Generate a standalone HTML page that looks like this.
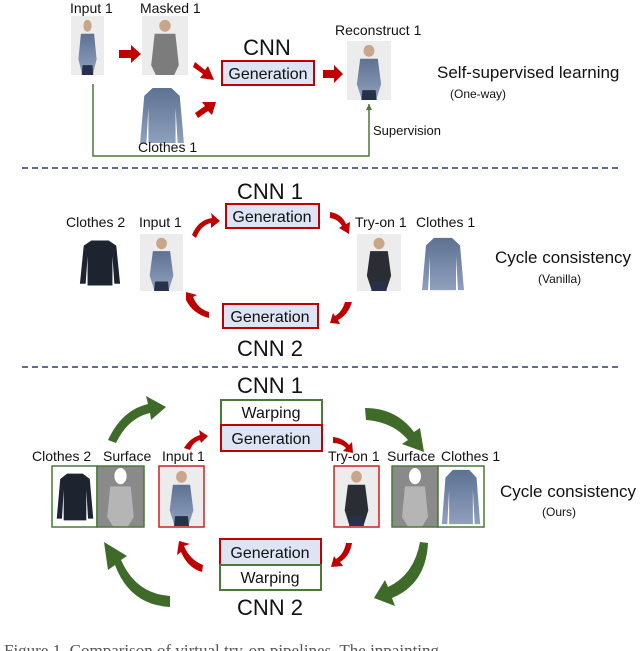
<!DOCTYPE html>
<html><head><meta charset="utf-8"><style>
html,body{margin:0;padding:0;background:#fff;width:640px;height:651px;overflow:hidden}
svg{display:block}
text{font-family:"Liberation Sans",sans-serif;fill:#111}
</style></head><body>
<svg width="640" height="651" viewBox="0 0 640 651" xmlns="http://www.w3.org/2000/svg">
<defs>
<linearGradient id="bl" x1="0" y1="0" x2="0" y2="1"><stop offset="0" stop-color="#5d7191"/><stop offset="1" stop-color="#8fa0bd"/></linearGradient>
<symbol id="pB" viewBox="0 0 40 60" preserveAspectRatio="none"><rect width="40" height="60" fill="#ececec"/><ellipse cx="20" cy="10" rx="5" ry="6" fill="#c9a58a"/><path d="M12 18 L28 18 L31 44 L27 58 L13 58 L9 44 Z" fill="url(#bl)"/><path d="M14 50 L26 50 L27 60 L13 60Z" fill="#27324a"/></symbol>
<symbol id="pK" viewBox="0 0 40 60" preserveAspectRatio="none"><rect width="40" height="60" fill="#ececec"/><ellipse cx="20" cy="10" rx="5" ry="6" fill="#c9a58a"/><path d="M12 18 L28 18 L31 44 L27 58 L13 58 L9 44 Z" fill="#2a2d33"/><path d="M14 50 L26 50 L27 60 L13 60Z" fill="#27324a"/></symbol>
<symbol id="pM" viewBox="0 0 40 60" preserveAspectRatio="none"><rect width="40" height="60" fill="#ececec"/><ellipse cx="20" cy="10" rx="5" ry="6" fill="#c9a58a"/><path d="M11 18 L29 18 L32 50 L28 60 L12 60 L8 50 Z" fill="#7c7c7c"/></symbol>
<symbol id="cB" viewBox="0 0 46 60" preserveAspectRatio="none"><path d="M14 2 L32 2 L40 10 L44 58 L38 58 L36 22 L36 58 L10 58 L10 22 L8 58 L2 58 L6 10Z" fill="url(#bl)"/></symbol>
<symbol id="cK" viewBox="0 0 46 60" preserveAspectRatio="none"><path d="M14 4 L32 4 L40 10 L44 54 L38 54 L36 22 L36 56 L10 56 L10 22 L8 54 L2 54 L6 10Z" fill="#1e2330"/></symbol>
<symbol id="sf" viewBox="0 0 46 60" preserveAspectRatio="none"><rect width="46" height="60" fill="#8a8a8a"/><ellipse cx="23" cy="10" rx="6" ry="8" fill="#fff"/><path d="M13 20 L33 20 L36 50 L30 60 L16 60 L10 50Z" fill="#b5b5b5"/></symbol>
<marker id="ga" markerWidth="8" markerHeight="8" refX="6" refY="3" orient="auto" markerUnits="userSpaceOnUse"><path d="M0 0 L6 3 L0 6Z" fill="#4a7a36"/></marker>
</defs>

<!-- Section 1 -->
<text x="70" y="13" font-size="14">Input 1</text>
<text x="140" y="13" font-size="14">Masked 1</text>
<use href="#pB" x="71" y="16" width="33" height="59"/>
<use href="#pM" x="142" y="16" width="46" height="59"/>
<path d="M119 50 L131 50 L131 45 L141 54 L131 63 L131 58 L119 58Z" fill="#c00000"/>
<path d="M195 62 L205 70 L208 66 L214 80 L200 78 L203 74 L193 67Z" fill="#c00000"/>
<path d="M195 113 L205 106 L202 102 L216 102 L212 115 L208 111 L198 118Z" fill="#c00000"/>
<text x="267" y="55" font-size="22" text-anchor="middle">CNN</text>
<rect x="222" y="61" width="92" height="24" fill="#dde4f3" stroke="#c00000" stroke-width="2"/>
<text x="268" y="79" font-size="16" text-anchor="middle">Generation</text>
<path d="M323 70 L334 70 L334 65 L343 74 L334 83 L334 78 L323 78Z" fill="#c00000"/>
<text x="335" y="35" font-size="14">Reconstruct 1</text>
<use href="#pB" x="347" y="41" width="44" height="59"/>
<use href="#cB" x="138" y="86" width="48" height="59"/>
<text x="138" y="152" font-size="14">Clothes 1</text>
<text x="437" y="78" font-size="17">Self-supervised learning</text>
<text x="450" y="98" font-size="12">(One-way)</text>
<polyline points="93,84 93,156 369,156 369,104" fill="none" stroke="#4a7a36" stroke-width="1.5" marker-end="url(#ga)"/>
<text x="373" y="135" font-size="13">Supervision</text>
<line x1="22" y1="168" x2="620" y2="168" stroke="#2d3c6e" stroke-width="1.5" stroke-dasharray="6,4"/>

<!-- Section 2 -->
<text x="270" y="199" font-size="22" text-anchor="middle">CNN 1</text>
<rect x="226" y="204" width="93" height="24" fill="#dde4f3" stroke="#c00000" stroke-width="2"/>
<text x="272" y="222" font-size="16" text-anchor="middle">Generation</text>
<path d="M192 235 Q198 220 212 218 L211 213 L220 221 L211 228 L211 223 Q201 225 196 238Z" fill="#c00000"/>
<path d="M330 212 Q342 214 346 224 L350 222 L349 234 L339 228 L342 226 Q338 219 330 218Z" fill="#c00000"/>
<text x="66" y="227" font-size="14">Clothes 2</text>
<text x="139" y="227" font-size="14">Input 1</text>
<text x="355" y="227" font-size="14">Try-on 1</text>
<text x="416" y="227" font-size="14">Clothes 1</text>
<use href="#cK" x="78" y="237" width="44" height="52"/>
<use href="#pB" x="140" y="234" width="43" height="57"/>
<use href="#pK" x="357" y="234" width="44" height="57"/>
<use href="#cB" x="420" y="236" width="46" height="56"/>
<text x="495" y="263" font-size="17">Cycle consistency</text>
<text x="538" y="283" font-size="12">(Vanilla)</text>
<path d="M186 300 Q193 314 209 318 L209 312 Q198 309 193 297 L197 295 L186 292Z" fill="#c00000"/>
<path d="M352 302 Q348 315 338 320 L340 324 L330 323 L333 313 L335 316 Q342 312 345 302Z" fill="#c00000"/>
<rect x="223" y="304" width="95" height="24" fill="#dde4f3" stroke="#c00000" stroke-width="2"/>
<text x="270" y="322" font-size="16" text-anchor="middle">Generation</text>
<text x="270" y="356" font-size="22" text-anchor="middle">CNN 2</text>
<line x1="22" y1="367" x2="620" y2="367" stroke="#2d3c6e" stroke-width="1.5" stroke-dasharray="6,4"/>

<!-- Section 3 -->
<text x="270" y="393" font-size="22" text-anchor="middle">CNN 1</text>
<rect x="221" y="400" width="101" height="25" fill="#fff" stroke="#4a7a36" stroke-width="2"/>
<text x="271" y="418" font-size="16" text-anchor="middle">Warping</text>
<rect x="221" y="425" width="101" height="26" fill="#dde4f3" stroke="#c00000" stroke-width="2"/>
<text x="271" y="444" font-size="16" text-anchor="middle">Generation</text>
<path d="M108 440 Q122 410 148 404 L146 396 L166 407 L151 420 L150 413 Q128 418 116 443Z" fill="#3f6b2a"/>
<path d="M365 408 Q396 408 414 432 L420 428 L424 452 L402 444 L408 440 Q393 422 366 420Z" fill="#3f6b2a"/>
<path d="M184 448 Q190 438 200 435 L199 430 L208 436 L201 443 L200 440 Q193 442 190 450Z" fill="#c00000"/>
<path d="M333 437 Q343 438 349 445 L352 442 L353 453 L343 451 L346 448 Q341 443 333 443Z" fill="#c00000"/>
<text x="32" y="461" font-size="14">Clothes 2</text>
<text x="103" y="461" font-size="14">Surface</text>
<text x="162" y="461" font-size="14">Input 1</text>
<text x="328" y="461" font-size="14">Try-on 1</text>
<text x="387" y="461" font-size="14">Surface</text>
<text x="441" y="461" font-size="14">Clothes 1</text>
<rect x="52" y="466" width="45" height="61" fill="#fff" stroke="#4a7a36" stroke-width="1.5"/>
<use href="#cK" x="55" y="470" width="40" height="54"/>
<use href="#sf" x="97" y="466" width="47" height="61"/>
<rect x="97" y="466" width="47" height="61" fill="none" stroke="#4a7a36" stroke-width="1.5"/>
<rect x="159" y="466" width="45" height="61" fill="#ececec" stroke="#d02020" stroke-width="1.5"/>
<use href="#pB" x="160" y="467" width="43" height="59"/>
<rect x="334" y="466" width="45" height="61" fill="#ececec" stroke="#d02020" stroke-width="1.5"/>
<use href="#pK" x="335" y="467" width="43" height="59"/>
<use href="#sf" x="392" y="466" width="46" height="61"/>
<rect x="392" y="466" width="46" height="61" fill="none" stroke="#4a7a36" stroke-width="1.5"/>
<rect x="438" y="466" width="46" height="61" fill="#fff" stroke="#4a7a36" stroke-width="1.5"/>
<use href="#cB" x="440" y="468" width="42" height="58"/>
<text x="500" y="497" font-size="17">Cycle consistency</text>
<text x="542" y="516" font-size="12">(Ours)</text>
<path d="M184 546 Q190 560 203 565 L202 572 Q188 568 181 552 L177 555 L179 541 L190 544Z" fill="#c00000"/>
<path d="M352 543 Q350 556 340 562 L343 566 L331 567 L334 556 L336 559 Q344 554 346 543Z" fill="#c00000"/>
<rect x="220" y="539" width="101" height="26" fill="#dde4f3" stroke="#c00000" stroke-width="2"/>
<text x="270" y="558" font-size="16" text-anchor="middle">Generation</text>
<rect x="220" y="565" width="101" height="25" fill="#fff" stroke="#4a7a36" stroke-width="2"/>
<text x="270" y="583" font-size="16" text-anchor="middle">Warping</text>
<path d="M170 607 Q130 605 115 565 L108 570 L104 542 L127 556 L121 560 Q136 594 170 596Z" fill="#3f6b2a"/>
<path d="M428 543 Q426 584 392 598 L395 606 L374 598 L385 580 L388 587 Q414 575 420 542Z" fill="#3f6b2a"/>
<text x="270" y="615" font-size="22" text-anchor="middle">CNN 2</text>
<text x="4" y="656" font-size="17" style="font-family:'Liberation Serif',serif;fill:#555">Figure 1. Comparison of virtual try-on pipelines. The inpainting</text>
</svg>
</body></html>
